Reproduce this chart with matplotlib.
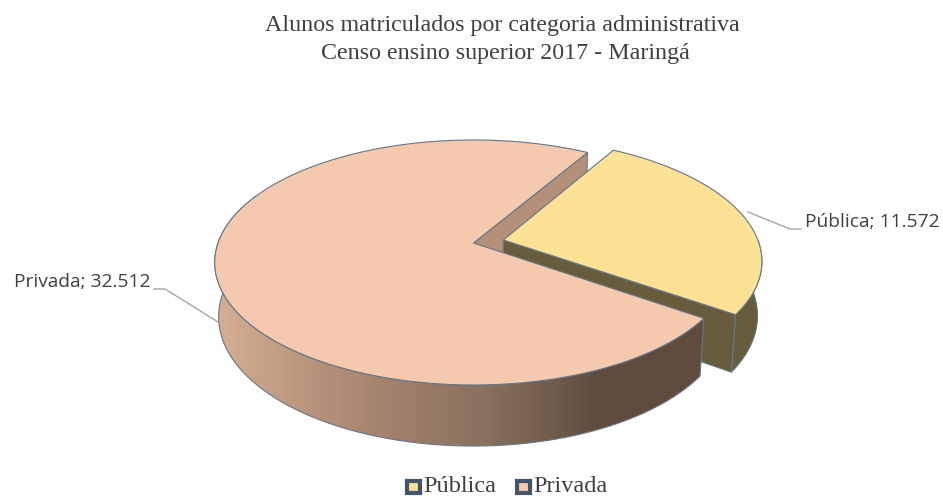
import numpy as np
import matplotlib
matplotlib.use("Agg")
import matplotlib.pyplot as plt
from matplotlib.colors import LinearSegmentedColormap
from matplotlib.patches import Polygon, PathPatch, Rectangle
from matplotlib.path import Path

# Data
categories = ["Pública", "Privada"]
values = [11572, 32512]
value_labels = ["11.572", "32.512"]
title_lines = ["Alunos matriculados por categoria administrativa",
               "Censo ensino superior 2017 - Maringá"]

# Pie styling
top_colors = ["#FBE295", "#F5C9AD"]
side_color_public = "#675C3B"
inner_color_private = "#B48F79"
edge_color = "#66768A"
start_angle = 59.5
explode = 0.12

# Camera of the perspective pie, in pixel units
X0, Y0 = 473.5, 243.0
A, B, C = 255.5, 119.4, 54.4
K, Q = 0.159, 0.015

W, H = 943, 496
fig = plt.figure(figsize=(W / 100, H / 100), dpi=100)
ax = fig.add_axes([0, 0, 1, 1])
ax.set_xlim(0, W)
ax.set_ylim(H, 0)
ax.axis("off")


def project(u, v, z=0.0):
    """Map disc coordinates (u, v) at depth z to pixel coordinates."""
    w = 1 + K * v + Q * z
    return np.column_stack([X0 + A * u / w, Y0 + (-B * v + C * z) / w])


def arc(a0, a1, off=(0.0, 0.0), z=0.0, n=160):
    t = np.radians(np.linspace(a0, a1, n))
    return project(off[0] + np.cos(t), off[1] + np.sin(t), z)


def point(off, z=0.0):
    return project(np.array([off[0]]), np.array([off[1]]), z)


total = sum(values)
a_pub_start = start_angle
a_pub_end = start_angle - 360.0 * values[0] / total
a_priv_end = a_pub_end - 360.0 * values[1] / total

mid = np.radians((a_pub_start + a_pub_end) / 2)
off_pub = (explode * np.cos(mid), explode * np.sin(mid))
origin = (0.0, 0.0)
lw = 0.8

# Public slice: outer wall and the cut wall facing the viewer
wall = np.vstack([arc(a_pub_end, 0, off_pub), arc(0, a_pub_end, off_pub, 1)])
ax.add_patch(Polygon(wall, fc=side_color_public, ec=edge_color, lw=lw, zorder=2))
cut = np.vstack([point(off_pub), arc(a_pub_end, a_pub_end, off_pub, n=1),
                 arc(a_pub_end, a_pub_end, off_pub, 1, n=1), point(off_pub, 1)])
ax.add_patch(Polygon(cut, fc=side_color_public, ec=edge_color, lw=lw, zorder=2))

# Private slice: cut wall visible behind the public slice
inner = np.vstack([point(origin), arc(a_pub_start, a_pub_start, n=1),
                   arc(a_pub_start, a_pub_start, z=1, n=1), point(origin, 1)])
ax.add_patch(Polygon(inner, fc=inner_color_private, ec=edge_color, lw=lw, zorder=1))

# Public slice: top face
top_pub = np.vstack([point(off_pub), arc(a_pub_start, a_pub_end, off_pub)])
ax.add_patch(Polygon(top_pub, fc=top_colors[0], ec=edge_color, lw=lw, zorder=3))

# Private slice: curved front wall, shaded from left to right and flat towards the cut
front = np.vstack([arc(a_pub_end, -205, n=240), arc(-205, a_pub_end, z=1, n=240)])
ramp = LinearSegmentedColormap.from_list(
    "wall", [(0.0, "#D6AF94"), (0.17, "#BC977E"), (0.37, "#A0806B"),
             (0.54, "#8B7260"), (0.70, "#6E5A4A"), (0.78, "#5F4C3E"), (1.0, "#5F4C3E")])
grad = ax.imshow(np.linspace(0, 1, 512)[None, :], cmap=ramp, aspect="auto",
                 extent=[front[:, 0].min(), 705, front[:, 1].max(), front[:, 1].min()],
                 zorder=4)
ax.set_xlim(0, W)
ax.set_ylim(H, 0)
clip = PathPatch(Path(np.vstack([front, front[:1]])), fc="none", ec=edge_color, lw=lw, zorder=5)
ax.add_patch(clip)
grad.set_clip_path(clip)

# Private slice: top face
top_priv = np.vstack([point(origin), arc(a_pub_end, a_priv_end, n=400)])
ax.add_patch(Polygon(top_priv, fc=top_colors[1], ec=edge_color, lw=lw, zorder=6))

# Leader lines and data labels
text_gray = "#404040"
leader = "#A6A6A6"
ax.plot([748, 790, 801], [212, 229, 229], color=leader, lw=1.0, zorder=1)
ax.plot([154, 165, 218], [289, 289, 322], color=leader, lw=1.0, zorder=7)
label_font = "Open Sans"
ax.text(805, 222, f"{categories[0]}; {value_labels[0]}", family=label_font,
        fontsize=13.8, color=text_gray, ha="left", va="center")
ax.text(150, 282, f"{categories[1]}; {value_labels[1]}", family=label_font,
        fontsize=13.8, color=text_gray, ha="right", va="center")

# Title
serif = "Liberation Serif"
ax.text(502.5, 25, title_lines[0], family=serif, fontsize=17.3, color=text_gray,
        ha="center", va="center")
ax.text(505.5, 54, title_lines[1], family=serif, fontsize=17.3, color=text_gray,
        ha="center", va="center")

# Legend
for x_box, x_text, name, col in zip([413.5, 523.5], [423, 533], categories, top_colors):
    ax.add_patch(Rectangle((x_box - 6.5, 480.5), 13, 12.5, fc=col, ec="#44546A", lw=3.0, zorder=8))
    ax.text(x_text, 486, name, family=serif, fontsize=17.5, color=text_gray,
            ha="left", va="center")

fig.savefig("out.png", dpi=100, facecolor="white")
